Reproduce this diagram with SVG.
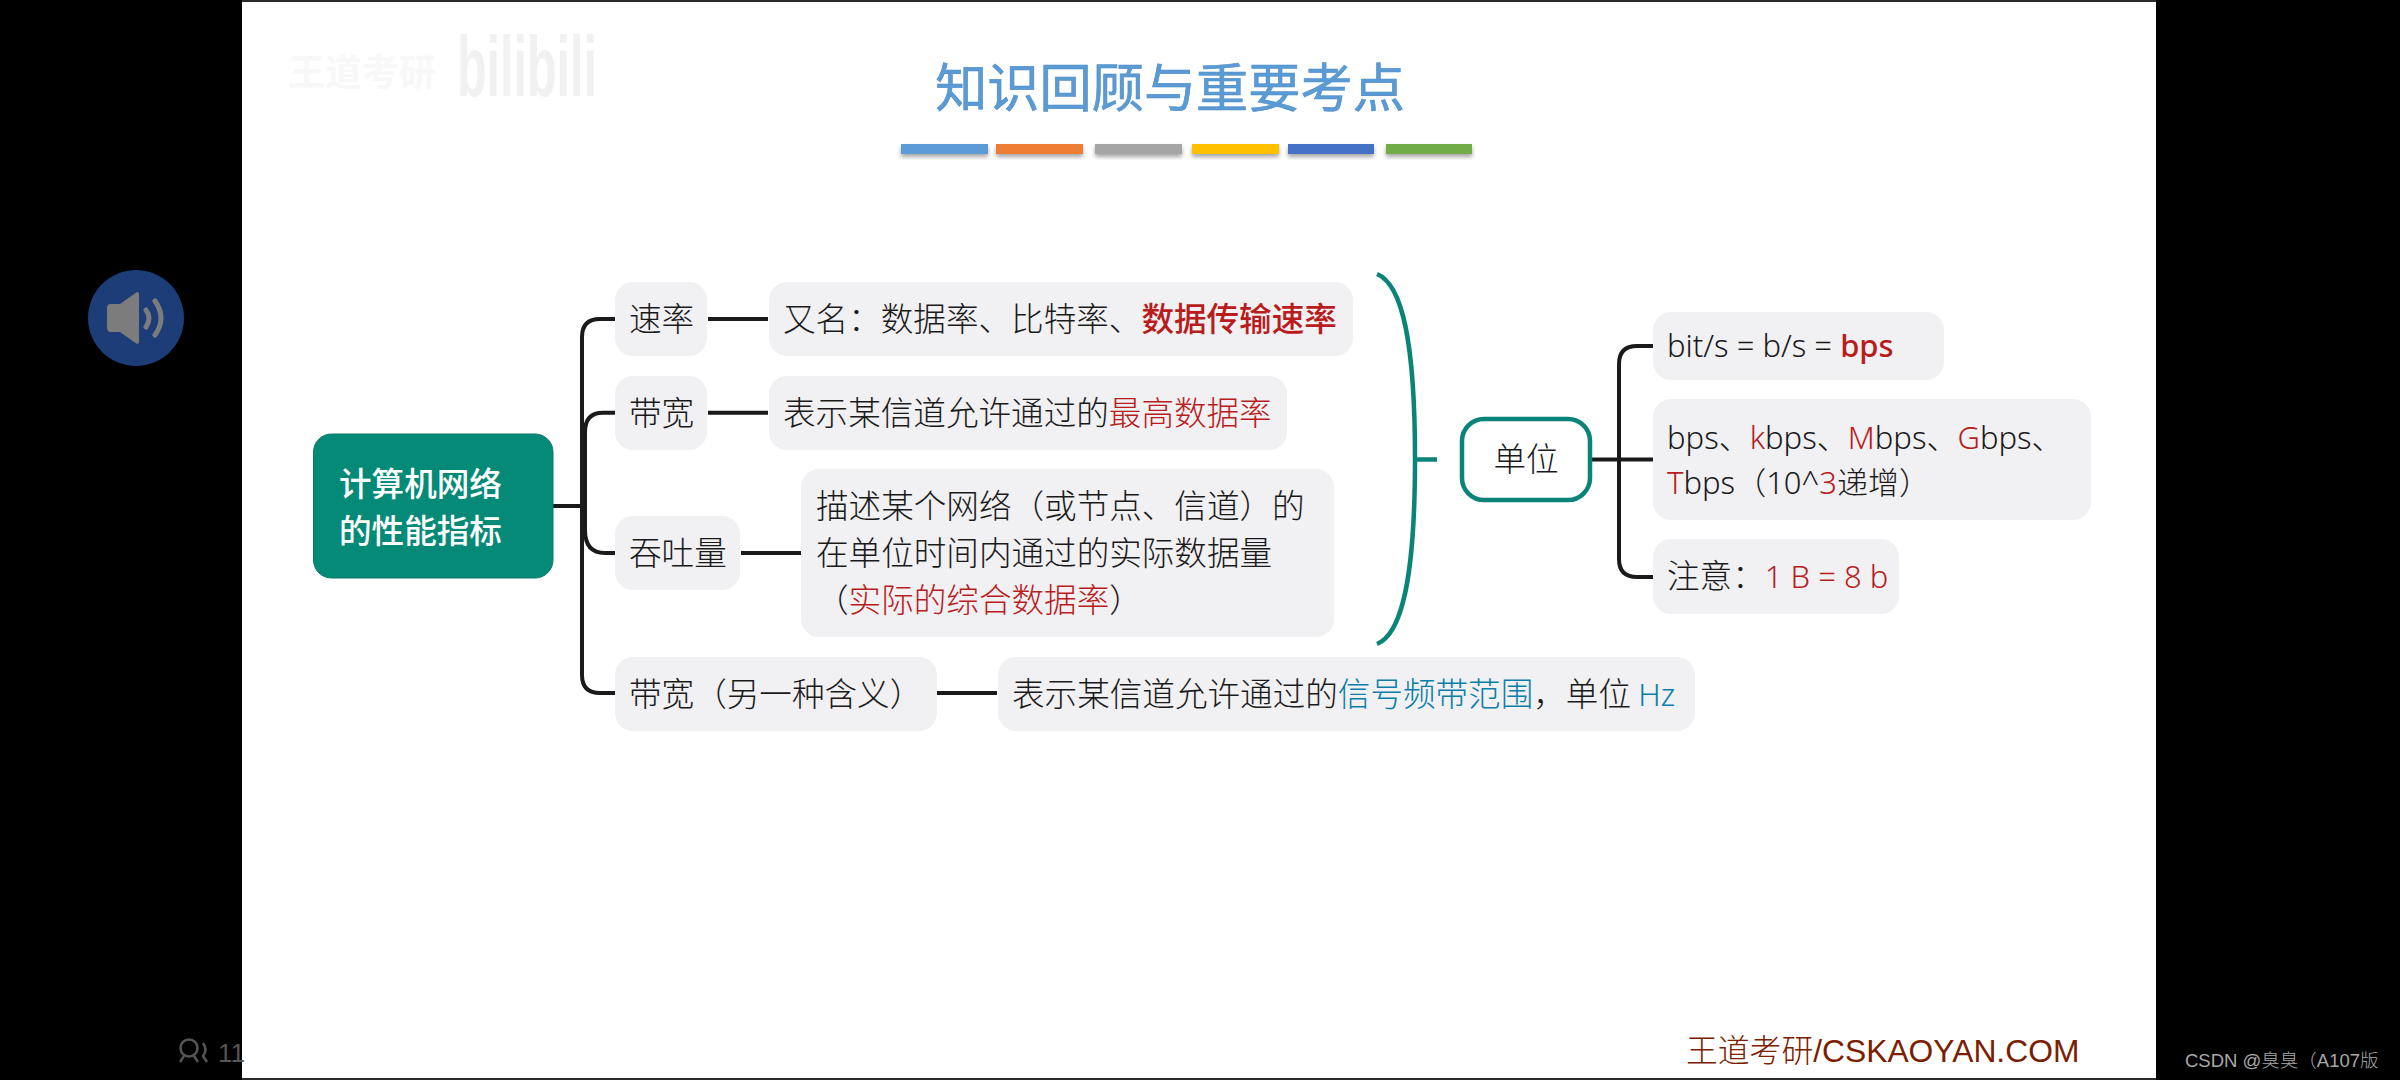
<svg xmlns="http://www.w3.org/2000/svg" width="2400" height="1080" viewBox="0 0 2400 1080">
<defs>
<style>
text{font-family:"Noto Sans CJK SC","Noto Sans",sans-serif;font-size:32.6px;fill:#1a1a1a;font-weight:300}
.n{fill:#f1f0f3}
.r{fill:#b81c1c}
.m{font-weight:500}
.b{fill:#0b7fa8}
.c{fill:none;stroke:#1a1a1a;stroke-width:4;stroke-linecap:butt}
.t{fill:none;stroke:#0a8478;stroke-width:4.5}
.lat{font-family:"Noto Sans","Noto Sans CJK SC",sans-serif;font-size:31px}
</style>
<filter id="sh" x="-10%" y="-30%" width="120%" height="190%"><feDropShadow dx="0" dy="3" stdDeviation="2" flood-color="#000" flood-opacity=".35"/></filter>
</defs>
<rect width="2400" height="1080" fill="#000"/>
<g id="page">
<rect x="242" y="0" width="1914" height="1080" fill="#2b2b2b"/>
<rect x="242" y="2" width="1914" height="1076" fill="#fff"/>
</g>
<g id="speaker">
<circle cx="136" cy="318" r="48" fill="#1c3d78"/>
<path d="M111 304 Q107 304 107 308 L107 327 Q107 332 111 332 L120 332 L137 344 L139 343 L139 293 L137 292 L120 304Z" fill="#7c7c7c"/>
<path d="M146 310 Q152 318 146 327M155 301 Q167 318 155 335" fill="none" stroke="#7c7c7c" stroke-width="5" stroke-linecap="round"/>
</g>
<g id="viewers">
<circle cx="189" cy="1048" r="8.500" fill="none" stroke="#555" stroke-width="2.500"/>
<path d="M184 1056 L180 1062M194 1056 L198 1062M203 1043 Q208 1050 203 1056 L207 1062" fill="none" stroke="#555" stroke-width="2.500"/>
<text x="218" y="1062" style="font-size:26px;fill:#555;font-family:'Liberation Sans',sans-serif">11</text>
</g>
<g id="watermark">
<text x="288" y="86" style="font-size:37px;fill:#f8f8f8;font-weight:700">王道考研</text>
<text x="457" y="96" textLength="140" lengthAdjust="spacingAndGlyphs" style="font-size:86px;fill:#f1f1f1;font-weight:700;font-family:'Liberation Sans',sans-serif">bilibili</text>
</g>
<g id="title">
<text x="1170" y="107" text-anchor="middle" style="font-size:52.200px;fill:#5b9bd5;font-weight:400;stroke:#4f8cc4;stroke-width:.6">知识回顾与重要考点</text>
<g filter="url(#sh)">
<rect x="901" y="144" width="87" height="10" fill="#5b9bd5"/>
<rect x="996" y="144" width="87" height="10" fill="#ed7d31"/>
<rect x="1095" y="144" width="87" height="10" fill="#a5a5a5"/>
<rect x="1192" y="144" width="87" height="10" fill="#ffc000"/>
<rect x="1288" y="144" width="86" height="10" fill="#4472c4"/>
<rect x="1386" y="144" width="86" height="10" fill="#70ad47"/>
</g>
</g>
<g id="connectors">
<path class="c" d="M553 506H582M615 319H600Q582 319 582 337V675Q582 693 600 693H615M615 412.700H603Q585 412.700 585 432V530Q585 553 605 553H615"/>
<path class="c" d="M708 319H768M708 412.700H768M741 553H801M937 693H997"/>
<path class="c" d="M1590 459.500H1653M1653 346H1637Q1619 346 1619 364V559Q1619 577 1637 577H1653"/>
<path class="t" d="M1377 274C1402 284 1415 340 1415 459C1415 578 1402 634 1377 644M1415 459.500H1437"/>
</g>
<g id="root">
<rect x="313.500" y="434" width="239.500" height="144" rx="18" fill="#068a78" stroke="#0a7a6c"/>
<text x="339" y="495.500" style="fill:#fff;font-weight:500">计算机网络</text>
<text x="339" y="542.500" style="fill:#fff;font-weight:500">的性能指标</text>
</g>
<g id="rate"><rect class="n" x="615" y="282" width="92" height="74" rx="18"/><text x="629" y="331">速率</text></g>
<g id="rate-desc"><rect class="n" x="769" y="282" width="584" height="74" rx="18"/><text x="783" y="331">又名：数据率、比特率、<tspan class="r m">数据传输速率</tspan></text></g>
<g id="bw"><rect class="n" x="615" y="376" width="92" height="74" rx="18"/><text x="629" y="425">带宽</text></g>
<g id="bw-desc"><rect class="n" x="769" y="376" width="518" height="74" rx="18"/><text x="783" y="425">表示某信道允许通过的<tspan class="r">最高数据率</tspan></text></g>
<g id="tp"><rect class="n" x="615" y="516" width="125" height="74" rx="18"/><text x="629" y="565">吞吐量</text></g>
<g id="tp-desc"><rect class="n" x="801" y="469" width="533" height="168" rx="18"/>
<text x="816" y="518">描述某个网络（或节点、信道）的</text>
<text x="816" y="565">在单位时间内通过的实际数据量</text>
<text x="816" y="612">（<tspan class="r">实际的综合数据率</tspan>）</text></g>
<g id="bw2"><rect class="n" x="615" y="657" width="322" height="74" rx="18"/><text x="629" y="706">带宽（另一种含义）</text></g>
<g id="bw2-desc"><rect class="n" x="998" y="657" width="697" height="74" rx="18"/><text x="1012" y="706">表示某信道允许通过的<tspan class="b">信号频带范围</tspan>，单位 <tspan class="b lat">Hz</tspan></text></g>
<g id="unit"><rect x="1462" y="419" width="128" height="81" rx="22" fill="#fff" stroke="#0a8478" stroke-width="4.500"/><text x="1526" y="471" text-anchor="middle">单位</text></g>
<g id="u1"><rect class="n" x="1653" y="312" width="291" height="68" rx="18"/><text class="lat" x="1667" y="357">bit/s = b/s = <tspan class="r m">bps</tspan></text></g>
<g id="u2"><rect class="n" x="1653" y="399" width="438" height="121" rx="18"/>
<text class="lat" x="1667" y="449">bps、<tspan class="r">k</tspan>bps、<tspan class="r">M</tspan>bps、<tspan class="r">G</tspan>bps、</text>
<text class="lat" x="1667" y="494"><tspan class="r">T</tspan>bps（10^<tspan class="r">3</tspan>递增）</text></g>
<g id="u3"><rect class="n" x="1653" y="539" width="246" height="75" rx="18"/><text x="1667" y="588">注意：<tspan class="r lat">1 B = 8 b</tspan></text></g>
<g id="footer">
<text x="1686" y="1062" style="font-size:31.800px;fill:#7a2000;font-family:'Liberation Sans','Noto Sans CJK SC',sans-serif">王道考研/CSKAOYAN.COM</text>
<text x="2185" y="1067" style="font-size:18.500px;fill:#a8a8a8;font-family:'Liberation Sans','Noto Sans CJK SC',sans-serif">CSDN @臭臭（A107版</text>
</g>
</svg>
